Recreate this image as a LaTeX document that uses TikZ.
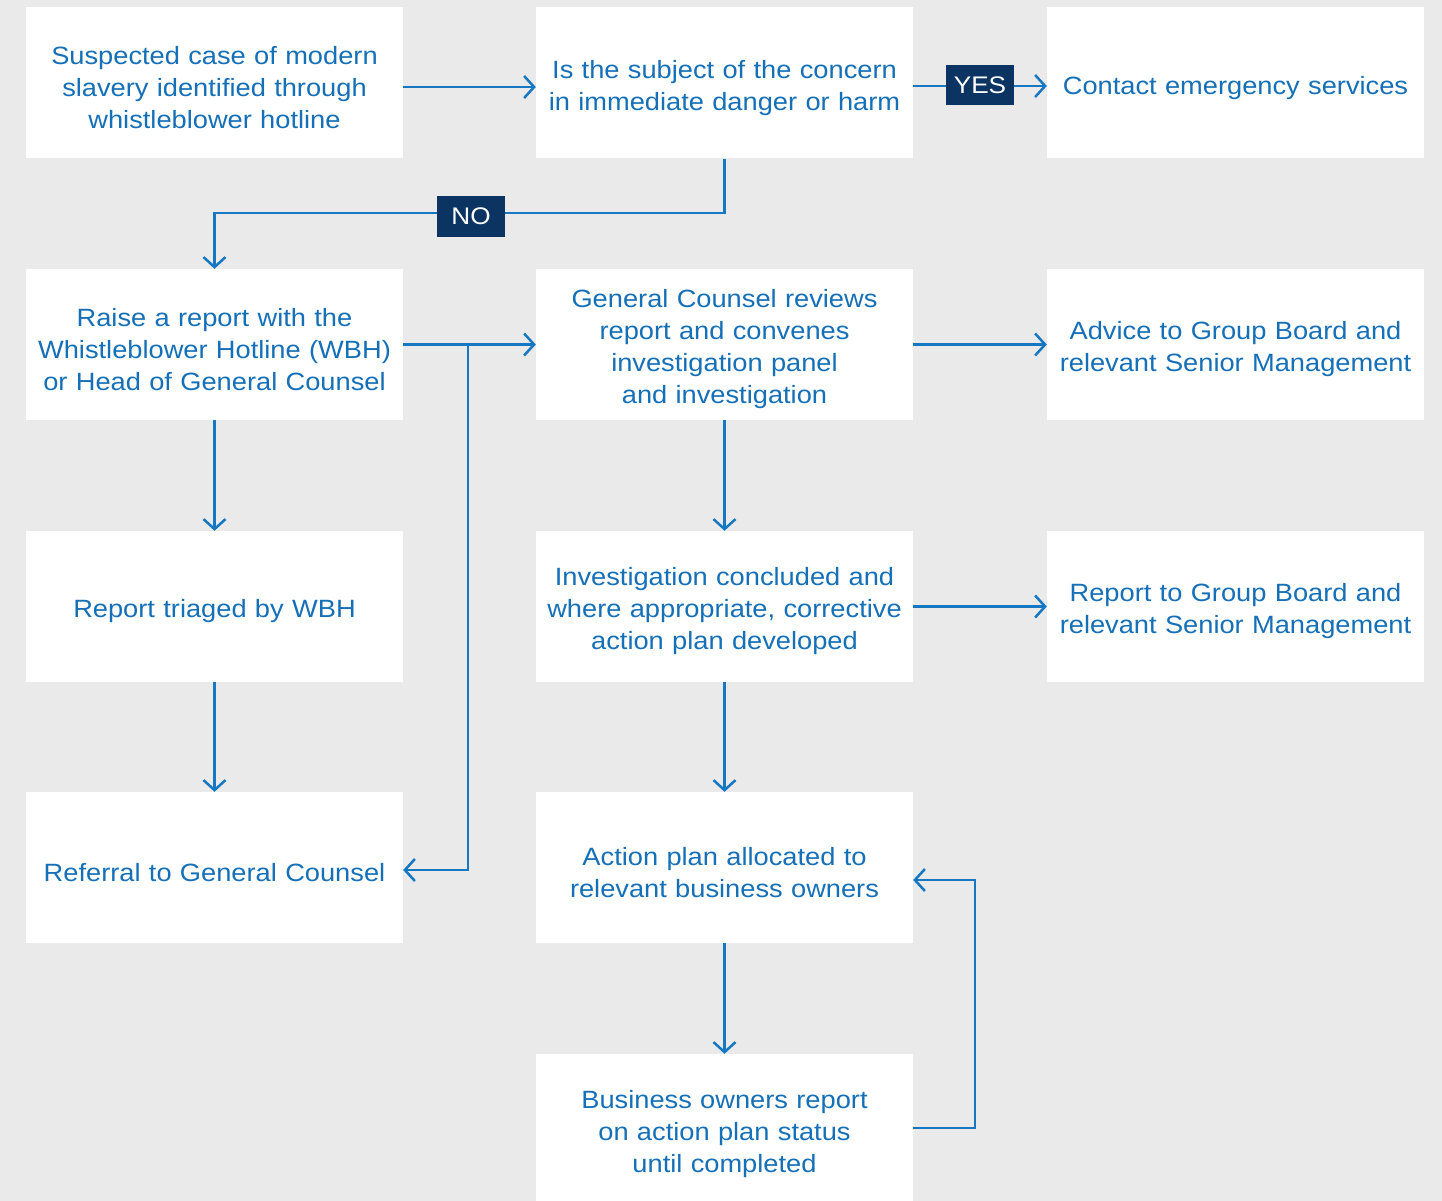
\documentclass[tikz,border=0pt]{standalone}
\usepackage{fontspec}
\setmainfont{Liberation Sans}[FakeStretch=1.09]
\usetikzlibrary{arrows.meta}
\definecolor{bgc}{HTML}{EAEAEA}
\definecolor{txtblue}{HTML}{1670B8}
\definecolor{lineblue}{HTML}{1677C2}
\definecolor{navy}{HTML}{0B3463}
\tikzset{
  box/.style={rectangle, fill=white, draw=none, minimum width=377pt, minimum height=151pt, inner sep=0pt},
  boxtext/.style={text width=375pt, align=center, text=txtblue, inner sep=0pt,
    font=\fontsize{25}{32}\selectfont},
  tag/.style={rectangle, fill=navy, text=white, minimum width=68pt, minimum height=40pt,
    inner sep=0pt, font=\fontsize{24}{28}\selectfont},
  arr/.style={draw=lineblue, line width=2.5pt, -{Straight Barb[length=10pt,width=22pt,line width=2.5pt]}},
}
\newcommand\flowbox[3]{%
  \node[box] (#1) at (#2) {};
  \node[boxtext] (#1-t) at ([yshift=-5pt]#1.center) {#3};}
\begin{document}
\begin{tikzpicture}[x=1pt,y=-1pt]
\fill[bgc] (0,0) rectangle (1442,1201);
\useasboundingbox (0,0) rectangle (1442,1201);
\begin{scope}
\clip (0,0) rectangle (1442,1201);
\flowbox{a1}{214.5,83}{Suspected case of modern\\slavery identified through\\whistleblower hotline}
\flowbox{a2}{724.5,83}{Is the subject of the concern\\in immediate danger or harm}
\flowbox{a3}{1235.5,83}{Contact emergency services}
\flowbox{b1}{214.5,344.5}{Raise a report with the\\Whistleblower Hotline (WBH)\\or Head of General Counsel}
\flowbox{b2}{724.5,344.5}{General Counsel reviews\\report and convenes\\investigation panel\\and investigation}
\flowbox{b3}{1235.5,344.5}{Advice to Group Board and\\relevant Senior Management}
\flowbox{c1}{214.5,606.5}{Report triaged by WBH}
\flowbox{c2}{724.5,606.5}{Investigation concluded and\\where appropriate, corrective\\action plan developed}
\flowbox{c3}{1235.5,606.5}{Report to Group Board and\\relevant Senior Management}
\flowbox{d1}{214.5,867.5}{Referral to General Counsel}
\flowbox{d2}{724.5,867.5}{Action plan allocated to\\relevant business owners}
\flowbox{e2}{724.5,1129.5}{Business owners report\\on action plan status\\until completed}
\end{scope}

\draw[arr] ([yshift=-4pt]a1.east) -- ([yshift=-4pt]a2.west);
\draw[arr] ([yshift=-3pt]a2.east) -- ([yshift=-3pt]a3.west);
\node[tag] (yes) at (980,85) {YES};

\coordinate (nojoin) at (724.5,213);
\draw[arr] (a2.south) -- (nojoin) -| (b1.north);
\node[tag] (no) at (471,216.5) {NO};

\draw[arr] (b1.east) -- (b2.west);
\coordinate (br) at (468,344.5);
\draw[arr] (br) |- ([yshift=-2.5pt]d1.east);
\draw[arr] (b2.east) -- (b3.west);
\draw[arr] (b1.south) -- (c1.north);
\draw[arr] (c1.south) -- (d1.north);
\draw[arr] (b2.south) -- (c2.north);
\draw[arr] (c2.east) -- (c3.west);
\draw[arr] (c2.south) -- (d2.north);
\draw[arr] (d2.south) -- (e2.north);
\coordinate (loopx) at (975,1128);
\draw[arr] ([yshift=1.5pt]e2.east) -- (loopx) |- ([yshift=-12.5pt]d2.east);
\end{tikzpicture}
\end{document}
